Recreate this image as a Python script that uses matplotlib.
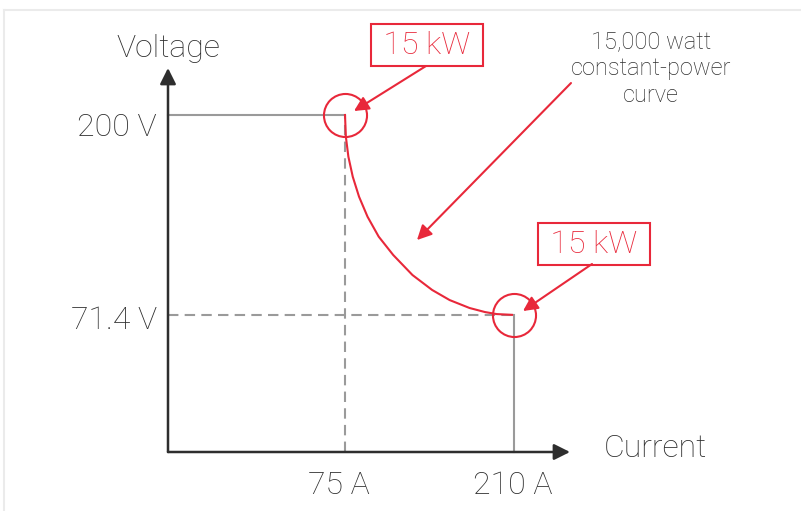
import matplotlib
matplotlib.use("Agg")
import matplotlib.pyplot as plt
import matplotlib.transforms as mtransforms
from matplotlib.lines import Line2D
import numpy as np

# --- data (amps / volts) ---
current_ticks = [75, 210]
current_labels = ["75 A", "210 A"]
voltage_ticks = [200, 71.4]
voltage_labels = ["200 V", "71.4 V"]
power_label = "15 kW"
curve_note = "15,000 watt\nconstant-power\ncurve"

# constant-power curve as drawn in the schematic
curve_i = [75.0, 75.7, 77.7, 81.2, 86.2, 93.0, 101.9, 113.5, 128.9, 144.6, 158.6, 174.5, 186.8, 196.1, 208.4]
curve_v = [200.0, 186.0, 173.2, 160.3, 147.5, 134.6, 121.8, 110.0, 97.1, 87.5, 81.0, 75.9, 73.3, 72.0, 71.5]

RED = "#e8283a"
GRAY = "#9a9a9a"
INK = "#2e2e2e"
FONT = ["Roboto", "DejaVu Sans"]

# schematic (non-proportional) axes: piecewise-linear scales
x_nodes, x_pix = [0, 75, 210, 255], [0, 177, 346, 402]
y_nodes, y_pix = [0, 71.4, 200, 230], [0, 137, 337, 384]

def fx(v): return np.interp(v, x_nodes, x_pix)
def fx_inv(p): return np.interp(p, x_pix, x_nodes)
def fy(v): return np.interp(v, y_nodes, y_pix)
def fy_inv(p): return np.interp(p, y_pix, y_nodes)

W, H = 801, 511
fig = plt.figure(figsize=(W / 100, H / 100), dpi=100)
ax = fig.add_axes([168 / W, 59 / H, 402 / W, 384 / H])
ax.set_xscale("function", functions=(fx, fx_inv))
ax.set_yscale("function", functions=(fy, fy_inv))
ax.set_xlim(0, 255)
ax.set_ylim(0, 230)
ax.axis("off")

# light frame of the source image
fig.add_artist(Line2D([4 / W, 4 / W], [0, 1 - 10 / H], transform=fig.transFigure, color="#ebebeb", lw=1.5))
fig.add_artist(Line2D([4 / W, 1], [1 - 10 / H, 1 - 10 / H], transform=fig.transFigure, color="#ebebeb", lw=1.5))

# operating envelope
ax.plot([0, current_ticks[0]], [voltage_ticks[0]] * 2, color=GRAY, lw=1.5, clip_on=False)
ax.plot([current_ticks[0]] * 2, [0, voltage_ticks[0]], color=GRAY, lw=1.5, dashes=(5, 3), clip_on=False)
ax.plot([0, current_ticks[1]], [voltage_ticks[1]] * 2, color=GRAY, lw=1.5, dashes=(5, 3), clip_on=False)
ax.plot([current_ticks[1]] * 2, [0, voltage_ticks[1]], color=GRAY, lw=1.5, clip_on=False)

# constant power curve
ax.plot(curve_i, curve_v, color=RED, lw=1.5, clip_on=False, solid_joinstyle="round")

# axes with arrows
arrow_kw = dict(arrowstyle="-|>", color=INK, lw=1.8, mutation_scale=24, shrinkA=0, shrinkB=0)
ax.annotate("", xy=(0, 1), xytext=(0, 0), xycoords="axes fraction", arrowprops=arrow_kw)
ax.annotate("", xy=(1, 0), xytext=(0, 0), xycoords="axes fraction", arrowprops=arrow_kw)

txt = dict(family=FONT, fontweight="light", color=INK, fontsize=23)
ax.annotate("Voltage", xy=(0, 1), xycoords="axes fraction", xytext=(0, 11), textcoords="offset pixels",
            ha="center", va="baseline", **txt)
ax.annotate("Current", xy=(1, 0), xycoords="axes fraction", xytext=(34, -5), textcoords="offset pixels",
            ha="left", va="baseline", **txt)

for v, lab, dy in zip(voltage_ticks, voltage_labels, [-21, -14]):
    ax.annotate(lab, xy=(0, v), xycoords=("axes fraction", "data"), xytext=(-11, dy),
                textcoords="offset pixels", ha="right", va="baseline", **txt)
for c, lab, dx in zip(current_ticks, current_labels, [-6, -1]):
    ax.annotate(lab, xy=(c, 0), xycoords=("data", "axes fraction"), xytext=(dx, -42),
                textcoords="offset pixels", ha="center", va="baseline", **txt)

# 15 kW markers: circle, boxed label, arrow
corners = [(current_ticks[0], voltage_ticks[0]), (current_ticks[1], voltage_ticks[1])]
box_offsets = [(82, 70), (80, 71)]
tail_offsets = [(72, 45), (69, 47)]
for (c, v), bo, to in zip(corners, box_offsets, tail_offsets):
    ax.plot([c], [v], "o", ms=31, mfc="none", mec=RED, mew=1.5, clip_on=False)
    ax.annotate("\u2009" + power_label + "\u2009", xy=(c, v), xytext=bo, textcoords="offset pixels",
                ha="center", va="center", family=FONT, fontweight="light", fontsize=23, color=RED,
                bbox=dict(boxstyle="square,pad=0.2", fc="white", ec=RED, lw=1.5))
    tip = mtransforms.offset_copy(ax.transData, fig=fig, x=9, y=4, units="dots")
    ax.annotate("", xy=(c, v), xycoords=tip, xytext=to, textcoords="offset pixels",
                arrowprops=dict(arrowstyle="-|>", color=RED, lw=1.5, mutation_scale=22,
                                shrinkA=0, shrinkB=0))

# callout for the curve
ax.annotate("", xy=(132.5, 119.6), xytext=(154, 157), textcoords="offset pixels",
            arrowprops=dict(arrowstyle="-|>", color=RED, lw=1.5, mutation_scale=22, shrinkA=0, shrinkB=0))
fig.text(651 / W, 1 - 69 / H, curve_note, ha="center", va="center", family=FONT, fontweight="light",
         fontsize=17, color=INK, linespacing=1.2)

fig.savefig("out.png", dpi=100)
